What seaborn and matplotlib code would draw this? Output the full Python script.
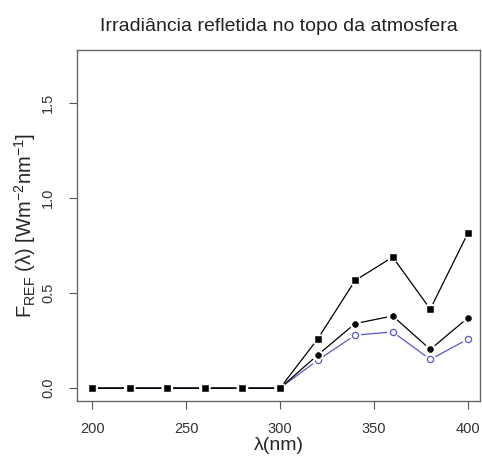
import numpy as np
import pandas as pd
import seaborn as sns
import matplotlib.pyplot as plt

# ---------------------------
# Data
# ---------------------------
wavelength = [200, 220, 240, 260, 280, 300, 320, 340, 360, 380, 400]
f_square = [0, 0, 0, 0, 0, 0, 0.258, 0.567, 0.69, 0.416, 0.816]
f_filled = [0, 0, 0, 0, 0, 0, 0.174, 0.34, 0.38, 0.204, 0.37]
f_open = [0, 0, 0, 0, 0, 0, 0.147, 0.279, 0.296, 0.151, 0.258]

x_ticks = [200, 250, 300, 350, 400]
y_ticks = [0.0, 0.5, 1.0, 1.5]

df = pd.DataFrame({'wl': wavelength, 'square': f_square,
                   'filled': f_filled, 'open': f_open})

# ---------------------------
# Style
# ---------------------------
sns.set_style('white')
plt.rcParams['font.family'] = ['Liberation Sans', 'DejaVu Sans']
plt.rcParams['mathtext.fontset'] = 'custom'
plt.rcParams['mathtext.rm'] = 'Liberation Sans'
plt.rcParams['mathtext.it'] = 'Liberation Sans:italic'

fig = plt.figure(figsize=(4.82, 4.61), dpi=100)
ax = fig.add_axes([0.16, 0.13, 0.836, 0.7615])

blue = '#5757cc'
# drawn bottom to top: open circles, filled circles, squares
series = [('open', blue, 'o', 'white', 20, 0.9),
          ('filled', 'black', 'o', 'black', 18, 0.4),
          ('square', 'black', 's', 'black', 22, 0.4)]

# R "type=b": lines with small gaps around the points
for i, (col, lc, mk, fc, sz, ew) in enumerate(series):
    sns.lineplot(data=df, x='wl', y=col, color=lc, lw=0.9, ax=ax, zorder=2 + i * 3)
    sns.scatterplot(data=df, x='wl', y=col, marker='o', s=70, color='white',
                    edgecolor='none', ax=ax, zorder=3 + i * 3)
    sns.scatterplot(data=df, x='wl', y=col, marker=mk, s=sz, color=fc,
                    edgecolor=lc, linewidth=ew, ax=ax, zorder=4 + i * 3)

ax.set_xlim(192, 406.5)
ax.set_ylim(-0.068, 1.78)
ax.set_xticks(x_ticks)
ax.set_yticks(y_ticks)
ax.set_yticklabels([f'{v:.1f}' for v in y_ticks], rotation=90, va='center')
ax.tick_params(axis='both', direction='out', length=6, width=0.8,
               color='#555555', labelsize=10.5, labelcolor='#333333',
               bottom=True, left=True)
ax.tick_params(axis='x', pad=9)
ax.tick_params(axis='y', pad=10)
for sp in ax.spines.values():
    sp.set_color('#666666')
    sp.set_linewidth(1.0)

ax.set_xlabel('λ(nm)', fontsize=14, labelpad=1)
ax.set_ylabel(r'$\mathrm{F_{REF}\ (λ)\ [Wm^{-2}nm^{-1}]}$', fontsize=14.5, labelpad=2)
ax.set_title('Irradiância refletida no topo da atmosfera', fontsize=14, pad=14,
             color='#222222')

plt.savefig('out.png', dpi=100)
